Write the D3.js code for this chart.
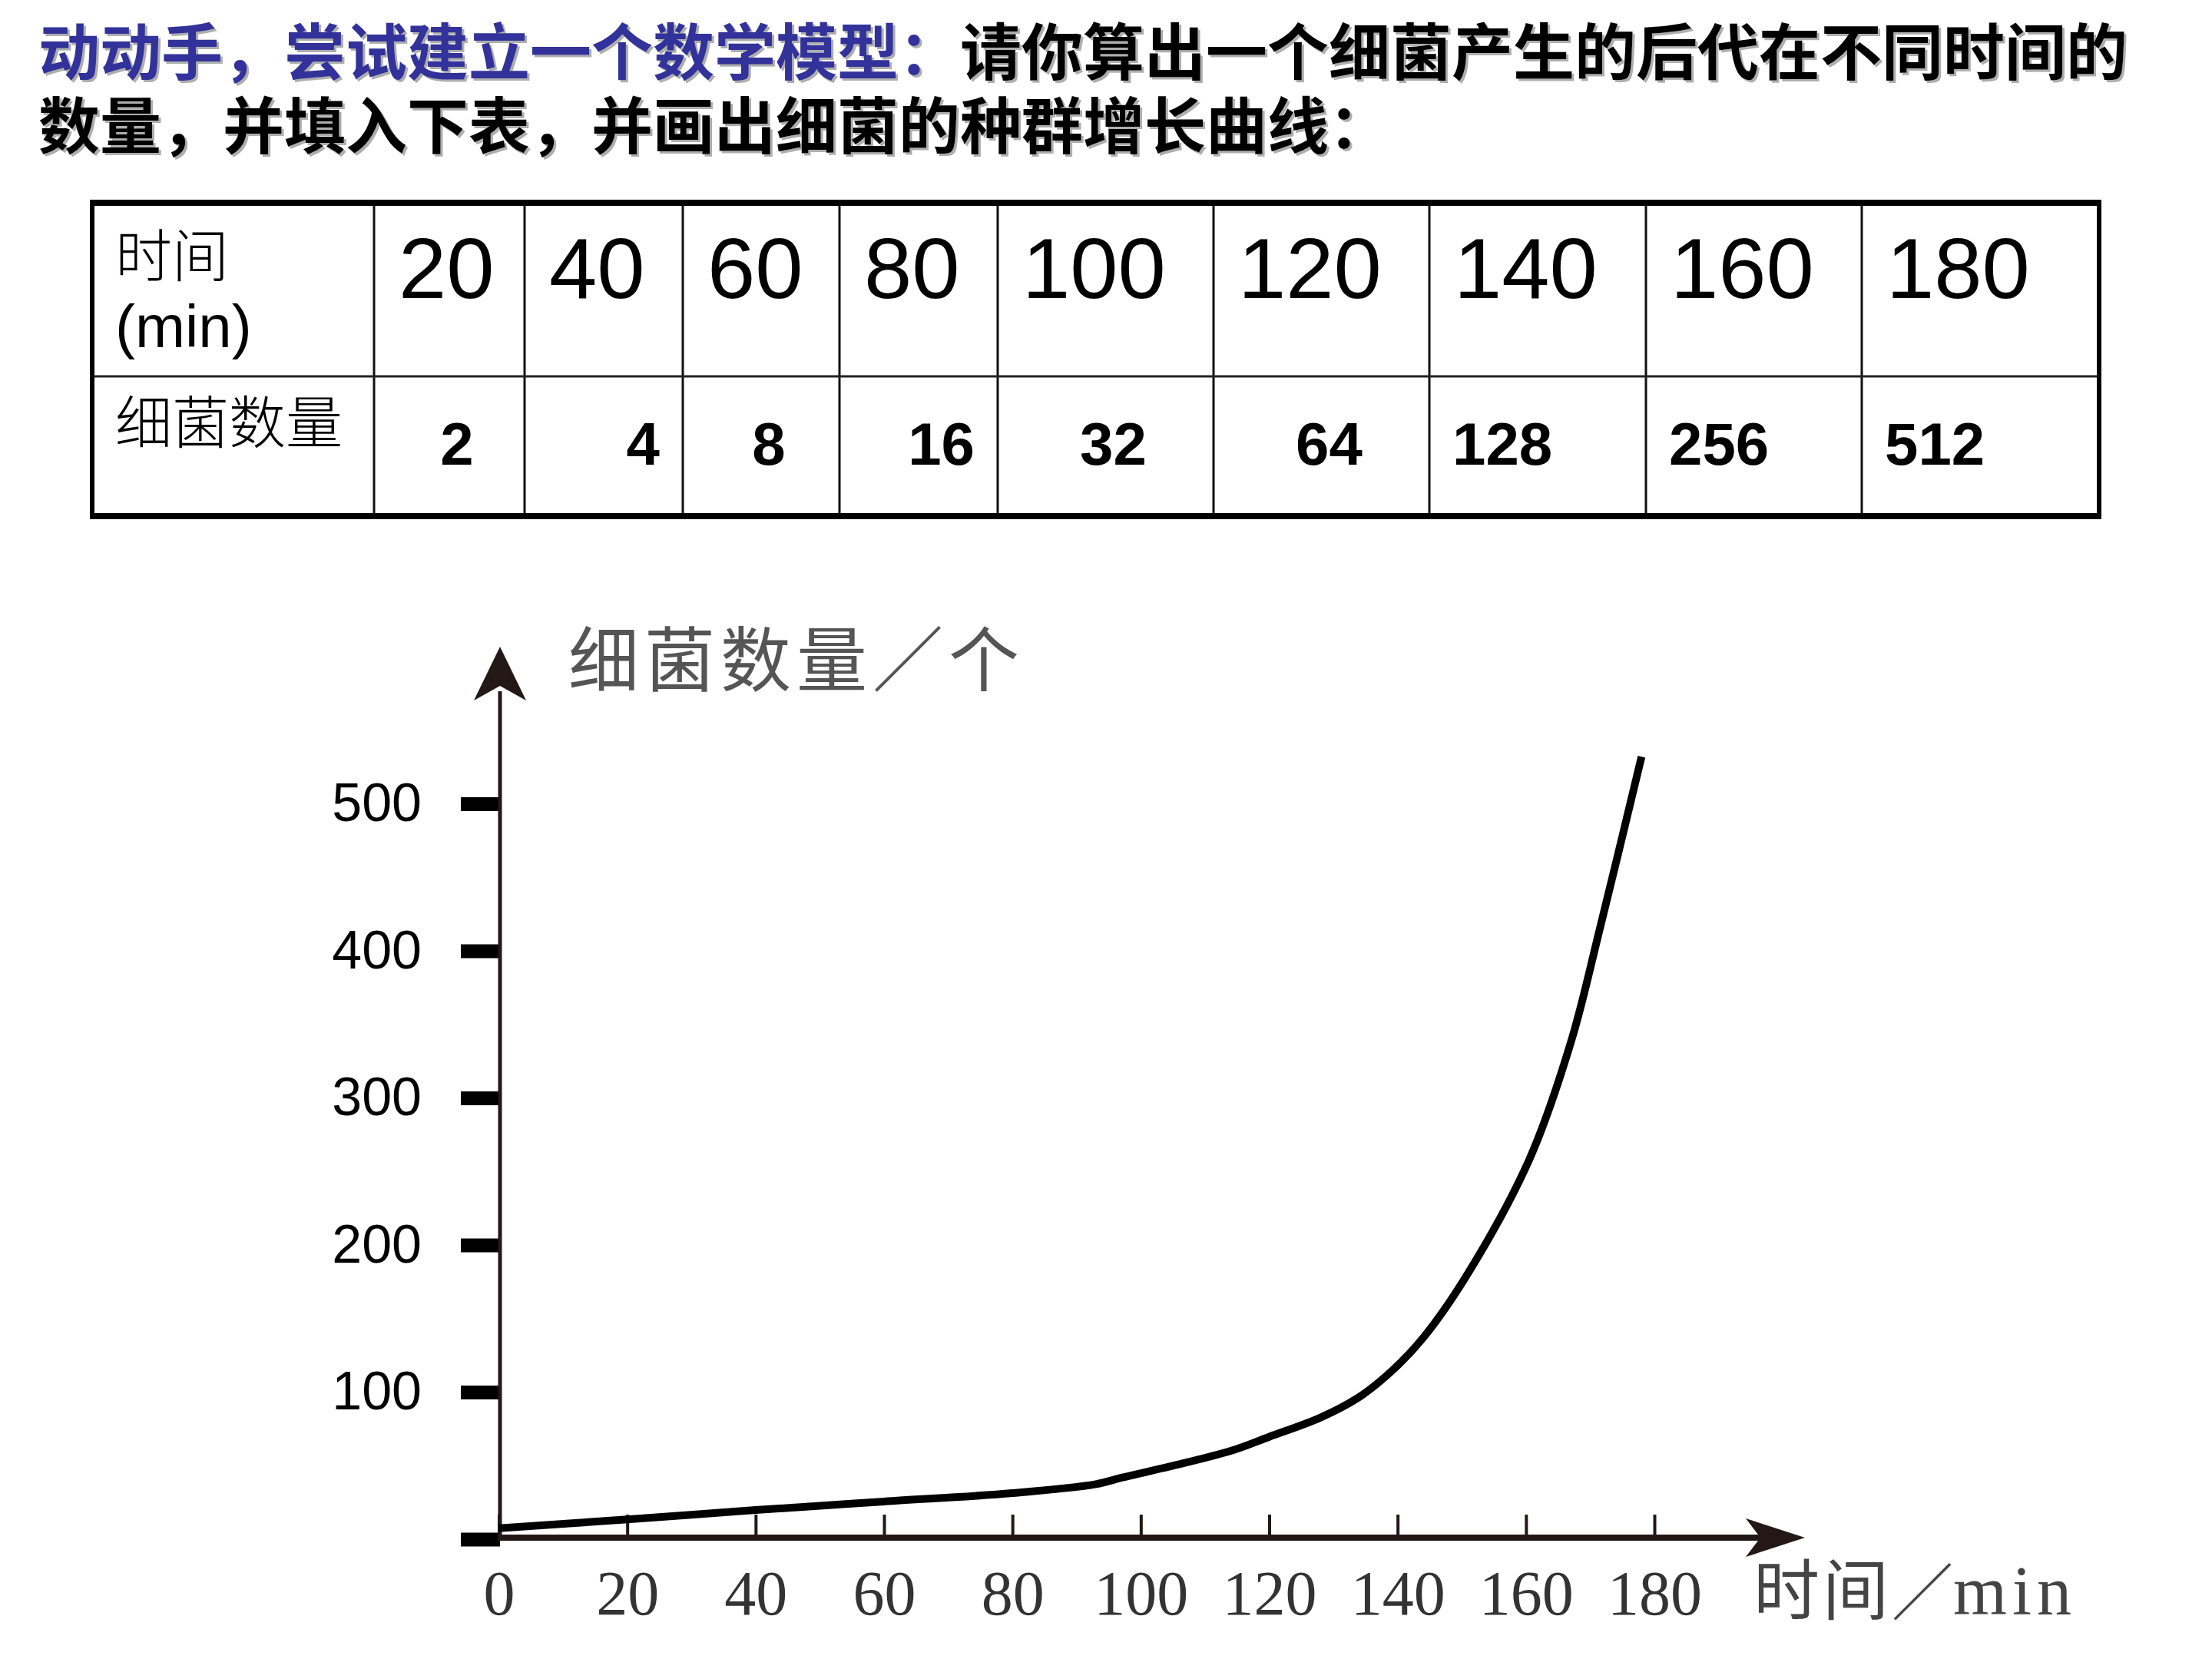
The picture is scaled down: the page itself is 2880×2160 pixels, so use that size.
<!DOCTYPE html>
<html>
<head>
<meta charset="utf-8">
<script src="https://cdn.jsdelivr.net/npm/d3@7"></script>
<style>
  html, body { margin: 0; padding: 0; background: #fff; }
  svg { display: block; }
</style>
</head>
<body>
<div id="chart"></div>
<script>
// title text
const titleBlue = "动动手，尝试建立一个数学模型：";
const titleBlack1 = "请你算出一个细菌产生的后代在不同时间的";
const titleBlack2 = "数量，并填入下表，并画出细菌的种群增长曲线：";

// table values
const rowHeadTime = ["时间", "(min)"];
const rowHeadCount = "细菌数量";
const tableTimes = [20, 40, 60, 80, 100, 120, 140, 160, 180];
const tableCounts = [2, 4, 8, 16, 32, 64, 128, 256, 512];

// growth curve as drawn in the picture (time in min, count)
const curveTimes = [0, 20, 40, 60, 80, 93, 97, 105, 114, 120, 128, 134, 139, 144, 151, 160.5, 167, 171.5, 178];
const curveCounts = [7.5, 13.4, 19.8, 25.6, 31.3, 37.4, 41.8, 49.9, 60, 69.6, 82.7, 96.6, 114, 137, 181, 258, 338, 415, 532];

// axis ticks and labels
const xTicks = [0, 20, 40, 60, 80, 100, 120, 140, 160, 180];
const yTicks = [0, 100, 200, 300, 400, 500];
const xAxisLabel = ["时间", "／", "min"];
const yAxisLabel = "细菌数量／个";

// table layout
const colWidths = [367, 196, 206, 204, 206, 281, 281, 282, 281, 309];
const countAnchor = ["middle", "end", "middle", "end", "middle", "middle", "start", "start", "start"];

const W = 2880, H = 2160;
const cjk = "'Noto Sans CJK SC', sans-serif";
const sans = "'Liberation Sans', Arial, sans-serif";
const serif = "'Liberation Serif', 'Times New Roman', serif";
const axisColor = "#231815";

const svg = d3.select("#chart").append("svg")
    .attr("width", W)
    .attr("height", H);

svg.append("rect").attr("width", W).attr("height", H).attr("fill", "#fff");

// light shadow under the title, like the slide
svg.append("defs").append("filter")
    .attr("id", "titleShadow")
    .attr("x", "-5%").attr("y", "-20%")
    .attr("width", "110%").attr("height", "140%")
    .append("feDropShadow")
    .attr("dx", 3).attr("dy", 3)
    .attr("stdDeviation", 0.5)
    .attr("flood-color", "#9a9a9a")
    .attr("flood-opacity", 0.8);

// ---- title ----
function titleLine(g, y, parts) {
    const t = g.append("text")
        .attr("x", 50)
        .attr("y", y)
        .attr("font-family", cjk)
        .attr("font-weight", 700)
        .attr("font-size", 80);
    parts.forEach(p => t.append("tspan").attr("fill", p.color).text(p.text));
}
const title = svg.append("g").attr("filter", "url(#titleShadow)");
titleLine(title, 97, [{ text: titleBlue, color: "#33339a" }, { text: titleBlack1, color: "#000" }]);
titleLine(title, 193, [{ text: titleBlack2, color: "#000" }]);

// ---- table ----
const tableLeft = 120, tableTop = 264, rowMid = 490, tableBottom = 672;
const edges = [tableLeft, ...d3.cumsum(colWidths).map(d => tableLeft + d)];
const tableRight = edges[edges.length - 1];
const table = svg.append("g").attr("class", "table");

table.selectAll(".vline")
    .data(edges.slice(1, -1))
    .enter().append("line")
    .attr("class", "vline")
    .attr("x1", d => d).attr("x2", d => d)
    .attr("y1", tableTop).attr("y2", tableBottom)
    .attr("stroke", "#111").attr("stroke-width", 3);

table.append("line")
    .attr("x1", tableLeft).attr("x2", tableRight)
    .attr("y1", rowMid).attr("y2", rowMid)
    .attr("stroke", "#222").attr("stroke-width", 3);

// outer border
[[tableLeft - 3, tableTop, tableRight + 3, tableTop, 8],
 [tableLeft - 3, tableBottom, tableRight + 3, tableBottom, 8],
 [tableLeft, tableTop, tableLeft, tableBottom, 6],
 [tableRight, tableTop, tableRight, tableBottom, 6]].forEach(b => {
    table.append("line")
        .attr("x1", b[0]).attr("y1", b[1]).attr("x2", b[2]).attr("y2", b[3])
        .attr("stroke", "#000").attr("stroke-width", b[4]);
});

table.append("text")
    .attr("x", 150).attr("y", 360)
    .attr("font-family", cjk).attr("font-weight", 300).attr("font-size", 74)
    .attr("fill", "#000")
    .text(rowHeadTime[0]);
table.append("text")
    .attr("x", 150).attr("y", 452)
    .attr("font-family", sans).attr("font-size", 78)
    .attr("fill", "#000")
    .text(rowHeadTime[1]);
table.append("text")
    .attr("x", 150).attr("y", 577)
    .attr("font-family", cjk).attr("font-weight", 300).attr("font-size", 74)
    .attr("fill", "#000")
    .text(rowHeadCount);

table.selectAll(".time-cell")
    .data(tableTimes)
    .enter().append("text")
    .attr("class", "time-cell")
    .attr("x", (d, i) => edges[i + 1] + 32)
    .attr("y", 388)
    .attr("font-family", sans).attr("font-size", 112)
    .attr("fill", "#000")
    .text(d => d);

const cellPad = 30;
table.selectAll(".count-cell")
    .data(tableCounts)
    .enter().append("text")
    .attr("class", "count-cell")
    .attr("x", (d, i) => {
        const a = countAnchor[i];
        if (a === "start") return edges[i + 1] + cellPad;
        if (a === "end") return edges[i + 2] - cellPad;
        return (edges[i + 1] + edges[i + 2]) / 2 + 10;
    })
    .attr("y", 605)
    .attr("text-anchor", (d, i) => countAnchor[i])
    .attr("font-family", sans).attr("font-weight", 700).attr("font-size", 78)
    .attr("fill", "#000")
    .text(d => d);

// ---- growth chart ----
const x = d3.scaleLinear().domain([0, 180]).range([649.5, 2154]);
const y = d3.scaleLinear().domain([0, 500]).range([2004, 1046.5]);
const chart = svg.append("g").attr("class", "chart");

// x axis ticks + labels
const xAxisG = chart.append("g")
    .attr("transform", `translate(0,${y(0) - 2})`)
    .call(d3.axisBottom(x).tickValues(xTicks).tickSize(-30).tickFormat(d => d));
xAxisG.select(".domain").remove();
xAxisG.selectAll(".tick line").attr("stroke", axisColor).attr("stroke-width", 4);
xAxisG.selectAll(".tick text")
    .attr("y", 100).attr("dy", 0)
    .attr("font-family", serif).attr("font-size", 82)
    .attr("fill", "#333");

// y axis ticks + labels
const yAxisG = chart.append("g")
    .attr("transform", `translate(${x(0) + 1.5},0)`)
    .call(d3.axisLeft(y).tickValues(yTicks).tickSize(51).tickPadding(51)
        .tickFormat(d => d === 0 ? "" : d));
yAxisG.select(".domain").remove();
yAxisG.selectAll(".tick line")
    .attr("stroke", "#000").attr("stroke-width", 18).attr("stroke-linecap", "butt");
yAxisG.selectAll(".tick text")
    .attr("font-family", sans).attr("font-size", 70)
    .attr("fill", "#000");

// axis lines with arrows
const ox = x(0) + 1.5, oy = y(0) - 2;
chart.append("line")
    .attr("x1", ox - 3).attr("y1", oy)
    .attr("x2", 2292).attr("y2", oy)
    .attr("stroke", axisColor).attr("stroke-width", 8);
chart.append("path")
    .attr("d", `M2350,${oy} L2273,${oy - 25} L2292,${oy} L2273,${oy + 25} Z`)
    .attr("fill", axisColor);

chart.append("line")
    .attr("x1", ox).attr("y1", oy + 4)
    .attr("x2", ox).attr("y2", 900)
    .attr("stroke", axisColor).attr("stroke-width", 5);
chart.append("path")
    .attr("d", `M${ox},842 L${ox - 34},912 L${ox},893 L${ox + 34},912 Z`)
    .attr("fill", axisColor);

// axis titles
chart.append("text")
    .attr("x", 740).attr("y", 893)
    .attr("font-family", cjk).attr("font-size", 92)
    .attr("letter-spacing", 7)
    .attr("fill", "#555")
    .text(yAxisLabel);

const xl = chart.append("text")
    .attr("x", 2283).attr("y", 2102)
    .attr("fill", "#444");
xl.append("tspan").attr("font-family", cjk).attr("font-size", 86).attr("letter-spacing", 4).text(xAxisLabel[0]);
xl.append("tspan").attr("font-family", cjk).attr("font-size", 80).text(xAxisLabel[1]);
xl.append("tspan").attr("font-family", serif).attr("font-size", 90).attr("letter-spacing", 7).text(xAxisLabel[2]);

// growth curve
const curveData = curveTimes.map((t, i) => ({ t: t, n: curveCounts[i] }));
const line = d3.line()
    .x(d => x(d.t))
    .y(d => y(d.n))
    .curve(d3.curveCatmullRom.alpha(0.5));

chart.append("path")
    .datum(curveData)
    .attr("d", line)
    .attr("fill", "none")
    .attr("stroke", "#000")
    .attr("stroke-width", 10)
    .attr("stroke-linecap", "butt")
    .attr("stroke-linejoin", "round");
</script>
</body>
</html>
